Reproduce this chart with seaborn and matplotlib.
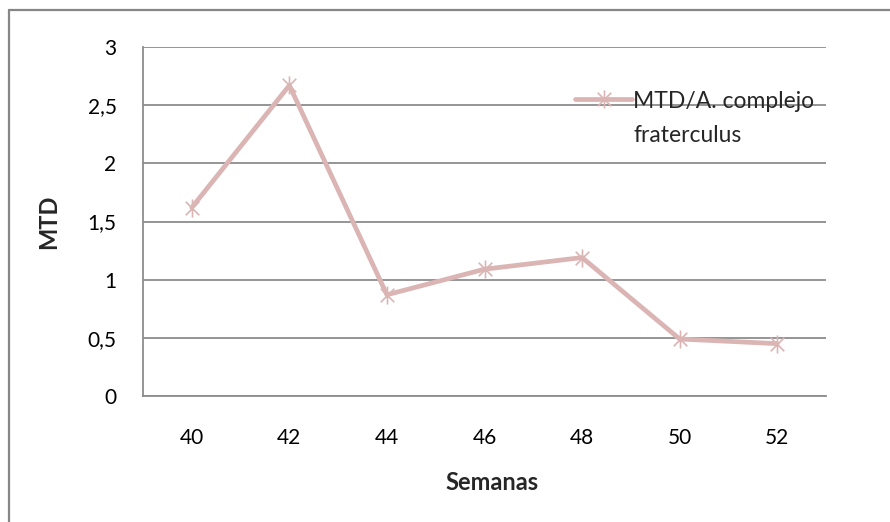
import matplotlib
matplotlib.use("Agg")
import matplotlib.pyplot as plt
import seaborn as sns
import pandas as pd
from matplotlib.path import Path
from matplotlib.lines import Line2D

semanas = ["40", "42", "44", "46", "48", "50", "52"]
mtd = [1.62, 2.67, 0.87, 1.09, 1.19, 0.49, 0.45]
yticks = [0, 0.5, 1, 1.5, 2, 2.5, 3]
ytick_labels = ["0", "0,5", "1", "1,5", "2", "2,5", "3"]
series_line1 = "MTD/A. complejo"
series_line2 = "fraterculus"

sns.set_theme(style="white")
plt.rcParams['font.family'] = ['Lato', 'DejaVu Sans']

df = pd.DataFrame({"Semanas": semanas, "MTD": mtd})

fig = plt.figure(figsize=(8.9, 5.22), dpi=100)
W, H = 890, 522
ax = fig.add_axes([143 / W, 1 - 396 / H, (826 - 143) / W, (396 - 47) / H])

# figure frame (top and left edges visible)
frame_kw = dict(transform=fig.transFigure, color="#868686", linewidth=1.6, zorder=0)
fig.lines.append(Line2D([9 / W, 1.0], [1 - 10 / H, 1 - 10 / H], **frame_kw))
fig.lines.append(Line2D([9 / W, 9 / W], [0.0, 1 - 10 / H], **frame_kw))

star = Path([(0, -1), (0, 1), (-0.75, -0.75), (0.75, 0.75), (-0.75, 0.75), (0.75, -0.75)],
            [Path.MOVETO, Path.LINETO, Path.MOVETO, Path.LINETO, Path.MOVETO, Path.LINETO])

color = "#dbb4b4"
sns.lineplot(data=df, x="Semanas", y="MTD", ax=ax, color=color, linewidth=3.4,
             marker=star, markersize=13, markeredgecolor=color, markeredgewidth=1.2,
             label=series_line1, sort=False)

ax.set_xlim(-0.5, len(semanas) - 0.5)
ax.set_ylim(0, 3)
ax.set_yticks(yticks)
ax.set_yticklabels(ytick_labels)
ax.yaxis.grid(True, color="#8c8c8c", linewidth=1.3)
ax.set_axisbelow(True)
for s in ["top", "right"]:
    ax.spines[s].set_visible(False)
for s in ["left", "bottom"]:
    ax.spines[s].set_color("#8c8c8c")
    ax.spines[s].set_linewidth(1.3)
ax.tick_params(axis="both", length=0, labelsize=15, colors="black")
ax.tick_params(axis="y", pad=19)
ax.tick_params(axis="x", pad=23)

ax.set_xlabel("Semanas", fontsize=17, fontweight="bold")
ax.set_ylabel("MTD", fontsize=17, fontweight="bold")
ax.xaxis.set_label_coords((492 - 143) / 683, (396 - 471) / 349)
ax.yaxis.set_label_coords((60 - 143) / 683, (396 - 222) / 349)

leg = ax.legend(loc="center left", bbox_to_anchor=((575 - 143) / 683, (396 - 101) / 349),
                frameon=False, fontsize=16.5, handlelength=2.5, handletextpad=0.05,
                borderaxespad=0, borderpad=0)

fig.canvas.draw()
tb = leg.get_texts()[0].get_window_extent()
x0 = tb.x0
ycen = (tb.y0 + tb.y1) / 2 - 35
fig.text(x0 / W, ycen / H, series_line2, fontsize=16.5, ha="left", va="center")

fig.savefig("out.png", dpi=100)
